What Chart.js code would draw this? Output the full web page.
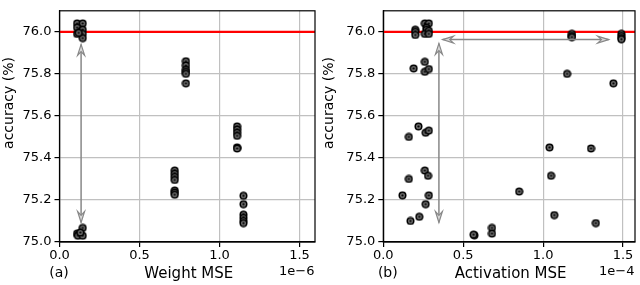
<!DOCTYPE html>
<html><head><meta charset="utf-8">
<script src="https://cdn.jsdelivr.net/npm/chart.js@4/dist/chart.umd.min.js"></script>
<style>
html,body{margin:0;padding:0;background:#fff;width:640px;height:285px;overflow:hidden}
.wrap{position:absolute;top:0;width:320px;height:285px}
canvas{display:block}
</style></head><body>
<div class="wrap" style="left:0"><canvas id="ca" width="320" height="285"></canvas></div>
<div class="wrap" style="left:320px"><canvas id="cb" width="320" height="285"></canvas></div>
<script>
// ---- data (a): Weight MSE (x1e-6) vs accuracy
const weightMSE = [0.11,0.145,0.11,0.13,0.11,0.145,0.145,0.145,0.12,
  0.11,0.12,0.115,0.145,0.145,0.13,
  0.79,0.79,0.79,0.79,0.79,0.79,
  0.72,0.72,0.72,0.72,0.72,0.72,0.72,
  1.11,1.11,1.11,1.11,1.11,1.11,
  1.15,1.15,1.15,1.15,1.15,1.15];
const accA = [76.04,76.04,76.02,76.00,75.99,76.01,75.99,75.97,75.995,
  75.04,75.035,75.03,75.067,75.03,75.045,
  75.86,75.84,75.82,75.81,75.80,75.755,
  75.34,75.325,75.31,75.295,75.245,75.235,75.225,
  75.55,75.535,75.52,75.505,75.45,75.445,
  75.22,75.18,75.13,75.115,75.10,75.09];
// ---- data (b): Activation MSE (x1e-4) vs accuracy
const activationMSE = [0.20,0.20,0.20,
  0.26,0.285,0.27,0.27,0.26,0.285,0.285,
  0.19,0.26,0.26,0.285,
  0.16,0.22,0.265,0.285,
  1.04,1.30,1.15,1.44,
  1.18,1.18,1.18,
  1.49,1.49,1.49,1.49,
  0.26,0.28,0.16,0.12,0.285,0.265,0.225,0.17,
  0.57,0.565,0.68,0.68,0.85,1.05,1.07,1.33];
const accB = [76.01,76.00,75.985,
  76.04,76.04,76.02,76.01,75.99,76.005,75.99,
  75.826,75.857,75.81,75.823,
  75.50,75.55,75.52,75.53,
  75.45,75.445,75.80,75.755,
  75.99,75.98,75.975,
  75.99,75.98,75.97,75.965,
  75.34,75.315,75.30,75.222,75.222,75.18,75.12,75.10,
  75.032,75.035,75.067,75.04,75.24,75.315,75.128,75.09];
const baseline = 76.0;
const xTicks = [0, 0.5, 1.0, 1.5];
const yTicks = [75.0, 75.2, 75.4, 75.6, 75.8, 76.0];
// arrows [x0, y0, x1, y1] in data units
const arrowsA = [[0.135, 75.94, 0.135, 75.093]];
const arrowsB = [[0.348, 75.945, 0.348, 75.093], [0.371, 75.963, 1.41, 75.963]];

const FONT = "'DejaVu Sans', sans-serif";

// marker image
const mk = document.createElement('canvas');
mk.width = 9; mk.height = 9;
(function(){
  const c = mk.getContext('2d');
  c.beginPath(); c.arc(4.5,4.5,3.3,0,Math.PI*2);
  c.fillStyle = '#6a6a6a'; c.fill();
  c.lineWidth = 1.5; c.strokeStyle = '#000'; c.stroke();
  c.beginPath(); c.arc(4.5,4.5,1.1,0,Math.PI*2);
  c.fillStyle = '#000'; c.fill();
})();

function pts(xs, ys){ return xs.map((x,i)=>({x:x, y:ys[i]})); }

function makeChart(id, xs, ys, xmax, yWidth, arrows, letter, xlabel, mult){
  const overlay = {
    id: 'overlay',
    afterDatasetsDraw(chart){
      const ctx = chart.ctx, a = chart.chartArea;
      const sx = chart.scales.x, sy = chart.scales.y;
      ctx.save();
      ctx.strokeStyle = '#000'; ctx.lineWidth = 1.2;
      ctx.strokeRect(a.left, a.top, a.right - a.left, a.bottom - a.top);
      ctx.beginPath(); ctx.rect(a.left, a.top, a.right-a.left, a.bottom-a.top); ctx.clip();
      arrows.forEach(ar => {
        const x0 = sx.getPixelForValue(ar[0]), y0 = sy.getPixelForValue(ar[1]);
        const x1 = sx.getPixelForValue(ar[2]), y1 = sy.getPixelForValue(ar[3]);
        ctx.strokeStyle = '#888'; ctx.lineWidth = 1.5;
        ctx.beginPath(); ctx.moveTo(x0,y0); ctx.lineTo(x1,y1); ctx.stroke();
        const head = (tx,ty,fx,fy) => {
          const ang = Math.atan2(ty-fy, tx-fx), L = 11, W = 3.5;
          const bx = tx - L*Math.cos(ang), by = ty - L*Math.sin(ang);
          const px = -Math.sin(ang)*W, py = Math.cos(ang)*W;
          ctx.beginPath(); ctx.moveTo(tx,ty); ctx.lineTo(bx+px,by+py);
          ctx.lineTo(bx + 0.35*L*Math.cos(ang), by + 0.35*L*Math.sin(ang));
          ctx.lineTo(bx-px,by-py); ctx.closePath();
          ctx.fillStyle = '#d8d8d8'; ctx.fill();
          ctx.lineWidth = 1.2; ctx.strokeStyle = '#888'; ctx.stroke();
        };
        head(x0,y0,x1,y1); head(x1,y1,x0,y0);
      });
      ctx.restore();
      ctx.save();
      ctx.fillStyle = '#000';
      ctx.textBaseline = 'middle';
      ctx.save();
      ctx.translate(9.5, 103); ctx.rotate(-Math.PI/2);
      ctx.font = '14px ' + FONT; ctx.textAlign = 'center';
      ctx.fillText('accuracy (%)', 0, 0);
      ctx.restore();
      ctx.font = '14px ' + FONT; ctx.textAlign = 'center';
      ctx.fillText(letter, a.left + (letter === '(a)' ? -0.5 : 4.5), 273.5);
      ctx.font = '15px ' + FONT;
      ctx.fillText(xlabel, (a.left + a.right)/2 + 1.5, 274.5);
      ctx.font = '13px ' + FONT; ctx.textAlign = 'right';
      ctx.fillText(mult, a.right - 0.5, 272);
      ctx.restore();
    }
  };
  return new Chart(document.getElementById(id), {
    type: 'scatter',
    data: { datasets: [
      { data: pts(xs, ys), pointStyle: mk, pointRadius: 4, pointHoverRadius: 4, order: 1 },
      { type: 'line', data: [{x:0,y:baseline},{x:xmax,y:baseline}], borderColor: '#ff0000', borderWidth: 2.2, pointRadius: 0, order: 2 }
    ]},
    options: {
      responsive: false, animation: false, devicePixelRatio: 1,
      layout: { padding: { left: 0, right: 5, top: 1.5, bottom: 0 } },
      plugins: { legend: { display: false }, tooltip: { enabled: false } },
      scales: {
        x: {
          type: 'linear', min: 0, max: xmax,
          afterFit: s => { s.height = 43; },
          afterBuildTicks: s => { s.ticks = xTicks.map(v => ({value: v})); },
          ticks: { font: { family: FONT, size: 13 }, color: '#000', padding: 1, maxRotation: 0,
                   callback: v => v.toFixed(1) },
          grid: { color: '#c0c0c0', lineWidth: 1.2, tickColor: '#000', tickLength: 5 },
          border: { display: true, color: '#000', width: 1.2 }
        },
        y: {
          type: 'linear', min: 75.0, max: 76.1,
          afterFit: s => { s.width = yWidth; },
          afterBuildTicks: s => { s.ticks = yTicks.map(v => ({value: v})); },
          ticks: { font: { family: FONT, size: 13 }, color: '#000', padding: 3,
                   callback: v => v.toFixed(1) },
          grid: { color: '#c0c0c0', lineWidth: 1.2, tickColor: '#000', tickLength: 5 },
          border: { display: true, color: '#000', width: 1.2 }
        }
      }
    },
    plugins: [overlay]
  });
}

makeChart('ca', weightMSE, accA, 1.597, 59.5, arrowsA, '(a)', 'Weight MSE', '1e\u22126');
makeChart('cb', activationMSE, accB, 1.575, 63.3, arrowsB, '(b)', 'Activation MSE', '1e\u22124');
</script>
</body></html>
